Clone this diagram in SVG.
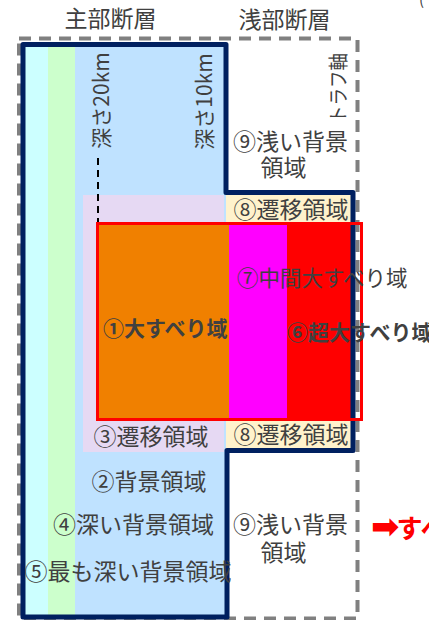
<svg xmlns="http://www.w3.org/2000/svg" width="429" height="620" viewBox="0 0 429 620">
  <style>
    .t { font-family: "Noto Sans CJK JP", "Noto Sans", "DejaVu Sans", sans-serif; fill: #404040; }
    .b { font-weight: bold; }
    .gray { fill: none; stroke: #808080; stroke-width: 4; stroke-dasharray: 12 8; }
    .navy { fill: none; stroke: #002060; stroke-width: 5; stroke-linejoin: round; }
    .redline { fill: none; stroke: #FF0000; stroke-width: 3; }
  </style>
  <rect width="429" height="620" fill="#FFFFFF"/>

  <!-- background columns of the main fault -->
  <g id="col-deepest"><rect x="23" y="45" width="25" height="572" fill="#CCFFFF"/></g>
  <g id="col-deep"><rect x="48" y="45" width="27" height="572" fill="#CCFFCC"/></g>
  <g id="col-background"><rect x="75" y="45" width="151" height="572" fill="#BFE2FF"/></g>
  <g id="transition-3"><rect x="83" y="195" width="141" height="257" fill="#E6D9F3"/></g>
  <g id="transition-8-top"><rect x="226" y="193" width="126" height="30" fill="#FFF2CC"/></g>
  <g id="transition-8-bottom"><rect x="226" y="418" width="126" height="31" fill="#FFF2CC"/></g>

  <!-- slip areas -->
  <g id="slip-large"><rect x="98" y="223" width="131" height="196" fill="#F08000"/></g>
  <g id="slip-mid"><rect x="229" y="223" width="58" height="196" fill="#FF00FF"/></g>
  <g id="slip-super"><rect x="287" y="223" width="66" height="196" fill="#FF0000"/></g>

  <!-- outlines -->
  <g id="fault-outline-gray"><rect class="gray" x="19" y="38.5" width="338.5" height="580"/></g>
  <g id="fault-outline-main">
    <path class="navy" d="M23,44.5 H226 V192.5 H353 V450.5 H227 V617 H23 Z"/>
  </g>
  <g id="slip-outline"><rect class="redline" x="97.5" y="223.5" width="264" height="196"/></g>

  <g id="connectors">
    <line x1="98" y1="158" x2="98" y2="222" stroke="#000000" stroke-width="2" stroke-dasharray="7 5"/>
  </g>

  <!-- labels -->
  <g id="header-main"><text class="t" x="110.5" y="27" font-size="23" text-anchor="middle">主部断層</text></g>
  <g id="header-shallow"><text class="t" x="284.5" y="28" font-size="23" text-anchor="middle">浅部断層</text></g>
  <g id="paren"><text class="t" x="419" y="5" font-size="15">(</text></g>

  <g id="depth20"><text class="t" font-size="21" text-anchor="middle" transform="translate(108.5,100.5) rotate(-90)">深さ20km</text></g>
  <g id="depth10"><text class="t" font-size="21" text-anchor="middle" transform="translate(211.5,101.5) rotate(-90)">深さ10km</text></g>
  <g id="trough-axis"><text class="t" font-size="20" text-anchor="middle" textLength="70" lengthAdjust="spacingAndGlyphs" transform="translate(345.5,88) rotate(-90)">トラフ軸</text></g>

  <g id="shallow-9-top">
    <text class="t" x="290.5" y="150" font-size="23" text-anchor="middle">⑨浅い背景</text>
    <text class="t" x="283.5" y="176" font-size="23" text-anchor="middle">領域</text>
  </g>
  <g id="label-8-top"><text class="t" x="291" y="218" font-size="23" text-anchor="middle">⑧遷移領域</text></g>
  <g id="label-7"><text class="t" x="237" y="286" font-size="21.5">⑦中間大すべり域</text></g>
  <g id="label-1"><text class="t b" x="103" y="336" font-size="21">①大すべり域</text></g>
  <g id="label-6"><text class="t b" x="287" y="340" font-size="21">⑥超大すべり域</text></g>
  <g id="label-8-bottom"><text class="t" x="291" y="443" font-size="23" text-anchor="middle">⑧遷移領域</text></g>
  <g id="label-3"><text class="t" x="151" y="445" font-size="23" text-anchor="middle">③遷移領域</text></g>
  <g id="label-2"><text class="t" x="149" y="490" font-size="23" text-anchor="middle">②背景領域</text></g>
  <g id="label-4"><text class="t" x="133.5" y="533" font-size="23" text-anchor="middle">④深い背景領域</text></g>
  <g id="label-5"><text class="t" x="128" y="580" font-size="23" text-anchor="middle">⑤最も深い背景領域</text></g>
  <g id="shallow-9-bottom">
    <text class="t" x="290.5" y="533" font-size="23" text-anchor="middle">⑨浅い背景</text>
    <text class="t" x="283.5" y="561" font-size="23" text-anchor="middle">領域</text>
  </g>
  <g id="arrow-note"><text x="371" y="538" font-size="26" font-weight="bold" fill="#FF0000" font-family="'Noto Sans CJK JP', 'DejaVu Sans', sans-serif"><tspan font-family="'DejaVu Sans', sans-serif" font-size="34">➡</tspan><tspan dx="-3">すべ</tspan></text></g>
</svg>
